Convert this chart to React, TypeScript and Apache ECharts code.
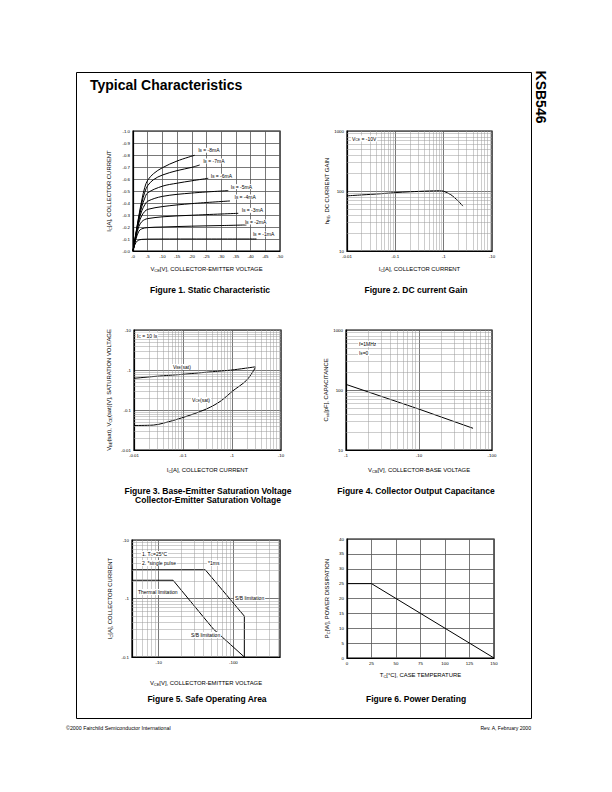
import { useEffect, useRef } from 'react';
import * as echarts from 'echarts';

const FONT = "'Liberation Sans', Arial, Helvetica, sans-serif";

// ---------- Figure 1: Static characteristic (|VCE| [V], |IC| [A]) ----------
const ibNames = ['-1mA', '-2mA', '-3mA', '-4mA', '-5mA', '-6mA', '-7mA', '-8mA'];
const ib1mA = [[0, 0], [0.5, 0.045], [1, 0.07], [1.5, 0.085], [2, 0.092], [3, 0.097], [5, 0.099], [20, 0.1], [42, 0.1]];
const ib2mA = [[0, 0], [1, 0.1], [2, 0.165], [3, 0.185], [5, 0.195], [10, 0.2], [20, 0.207], [30, 0.212], [38.6, 0.217]];
const ib3mA = [[0, 0], [1, 0.115], [2, 0.205], [3, 0.245], [4, 0.262], [5, 0.27], [10, 0.285], [20, 0.298], [35.8, 0.314]];
const ib4mA = [[0, 0], [1, 0.125], [2, 0.235], [3, 0.295], [4, 0.33], [5, 0.347], [10, 0.37], [20, 0.395], [33, 0.417]];
const ib5mA = [[0, 0], [1, 0.135], [2, 0.255], [3, 0.335], [4, 0.385], [5, 0.415], [10, 0.455], [20, 0.483], [32.4, 0.503]];
const ib6mA = [[0, 0], [1, 0.14], [2, 0.27], [3, 0.37], [4, 0.44], [5, 0.485], [10, 0.54], [15, 0.565], [20, 0.585], [25.6, 0.606]];
const ib7mA = [[0, 0], [1, 0.145], [2, 0.285], [3, 0.4], [4, 0.49], [5, 0.545], [7, 0.595], [10, 0.633], [15, 0.67], [20, 0.697], [22.7, 0.717]];
const ib8mA = [[0, 0], [1, 0.15], [2, 0.295], [3, 0.425], [4, 0.53], [5, 0.59], [7, 0.645], [10, 0.694], [15, 0.75], [21, 0.798]];
const staticCurves = [ib1mA, ib2mA, ib3mA, ib4mA, ib5mA, ib6mA, ib7mA, ib8mA];

// ---------- Figure 2: DC current gain (|IC| [A], hFE) ----------
const hfeIc = [0.01, 0.02, 0.05, 0.1, 0.2, 0.5, 0.85, 1, 1.4, 2, 2.5];
const hfeVal = [83, 86, 90, 94, 97, 100, 101, 99, 87, 68, 56];

// ---------- Figure 3: saturation voltages (|IC| [A], |V| [V]) ----------
const vbeIc = [0.01, 0.03, 0.1, 0.3, 1, 3];
const vbeSat = [0.62, 0.7, 0.78, 0.88, 1.0, 1.2];
const vceIc = [0.01, 0.025, 0.04, 0.1, 0.3, 0.6, 1, 2, 3];
const vceSat = [0.041, 0.042, 0.047, 0.065, 0.106, 0.17, 0.29, 0.56, 1.15];

// ---------- Figure 4: collector output capacitance (|VCB| [V], Cob [pF]) ----------
const cobV = [1, 10, 55];
const cobVal = [124, 48, 23];

// ---------- Figure 5: safe operating area (|VCE| [V], |IC| [A]) ----------
const soaPulseV = [4.4, 42, 140, 140];
const soaPulseI = [3.1, 3.1, 0.5, 0.1];
const soaDcV = [4.4, 15.6, 54, 140];
const soaDcI = [2.05, 2.05, 0.3, 0.1];

// ---------- Figure 6: power derating (TC [°C], PC [W]) ----------
const derTc = [0, 25, 150];
const derPc = [25, 25, 0];

const zip = (xs: number[], ys: number[]) => xs.map((x, i) => [x, ys[i]]);

function minors(lo: number, hi: number): number[] {
  const out: number[] = [];
  for (let e = Math.floor(Math.log10(lo)); e <= Math.ceil(Math.log10(hi)); e++) {
    for (let k = 2; k <= 9; k++) {
      const v = Number((k * Math.pow(10, e)).toPrecision(6));
      if (v > lo * 1.0001 && v < hi * 0.9999) out.push(v);
    }
  }
  return out;
}
const trim = (v: number) => String(Number(Number(v).toPrecision(6)));
const isPow10 = (v: number) => Math.abs(Math.log10(v) - Math.round(Math.log10(v))) < 1e-6;
const neg = (v: number) => '-' + trim(v);

const rich = (size: number) => ({
  n: { fontSize: size, fontFamily: FONT, color: '#000' },
  s: { fontSize: size * 0.68, fontFamily: FONT, color: '#000', verticalAlign: 'bottom' },
});

const TICK = { fontSize: 4.4, color: '#000', fontFamily: FONT, margin: 3 };
const AXLINE = { show: true, lineStyle: { color: '#000', width: 1.2 } };
const MAJOR = { show: true, lineStyle: { color: '#555', width: 0.8 } };
const NAME_SIZE = 5.9;

const grids = [
  { left: 133, top: 131, width: 147, height: 120 },
  { left: 347, top: 131, width: 145, height: 120 },
  { left: 134, top: 330, width: 147, height: 120 },
  { left: 346, top: 330, width: 146, height: 120 },
  { left: 132, top: 540, width: 148, height: 117 },
  { left: 347, top: 539, width: 147, height: 119 },
];

function axisName(name: string, gap: number, rotate = 0) {
  return {
    name,
    nameLocation: 'middle',
    nameGap: gap,
    nameRotate: rotate,
    nameTextStyle: { fontSize: NAME_SIZE, fontFamily: FONT, color: '#000', rich: rich(NAME_SIZE) },
  };
}

function linAxis(gi: number, min: number, max: number, interval: number, fmt: (v: number) => string, extra: any) {
  return {
    gridIndex: gi, type: 'value', min, max, interval,
    axisLine: AXLINE, axisTick: { show: false },
    axisLabel: { ...TICK, formatter: fmt, showMinLabel: true, showMaxLabel: true },
    splitLine: MAJOR,
    ...extra,
  };
}
function logAxis(gi: number, min: number, max: number, fmt: (v: number) => string, extra: any) {
  return {
    gridIndex: gi, type: 'log', logBase: 10, min, max,
    axisLine: AXLINE, axisTick: { show: false },
    axisLabel: { ...TICK, formatter: (v: number) => (isPow10(v) ? fmt(v) : ''), showMinLabel: true, showMaxLabel: true },
    splitLine: MAJOR,
    ...extra,
  };
}

function minorGrid(gi: number, xs: number[], ys: number[]) {
  return {
    type: 'line', xAxisIndex: gi, yAxisIndex: gi, data: [], silent: true, z: 1,
    markLine: {
      silent: true, symbol: ['none', 'none'], label: { show: false }, animation: false,
      lineStyle: { color: '#9a9a9a', width: 0.5, type: 'solid' },
      emphasis: { disabled: true },
      data: [...xs.map((v) => ({ xAxis: v })), ...ys.map((v) => ({ yAxis: v }))],
    },
  };
}

const LINE = { color: '#000', width: 1 };
function curve(gi: number, data: number[][], smooth: any = false, extra: any = {}) {
  return {
    type: 'line', xAxisIndex: gi, yAxisIndex: gi, data, smooth, symbol: 'none', showSymbol: false,
    lineStyle: LINE, z: 3, silent: true, ...extra,
  };
}

const labelOffsets = [[-4, -5], [-2, -3], [3, -3], [4, -4], [2, -4], [2, -2], [3, -4], [3, -5]];

function text(x: number, y: number, t: string, opts: any = {}) {
  const size = opts.size ?? 5;
  return {
    type: 'text', x, y, rotation: opts.rotation ?? 0, z: 10,
    style: {
      text: t,
      fill: '#000',
      font: `${opts.bold ? 'bold ' : ''}${size}px ${FONT}`,
      fontSize: size,
      fontWeight: opts.bold ? 'bold' : 'normal',
      fontFamily: FONT,
      align: opts.align ?? 'left',
      textAlign: opts.align ?? 'left',
      verticalAlign: 'middle',
      textVerticalAlign: 'middle',
      rich: opts.rich,
      backgroundColor: opts.bg,
      padding: opts.bg ? [0.5, 1] : 0,
    },
  };
}

export default function App() {
  const ref = useRef<HTMLDivElement>(null);
  useEffect(() => {
    if (!ref.current) return;
    const chart = echarts.init(ref.current, null, { renderer: 'svg' });
    const R5 = rich(5);
    const CAP = 8.5;
    const option: any = {
      animation: false,
      backgroundColor: '#fff',
      textStyle: { fontFamily: FONT },
      grid: grids.map((g) => ({ ...g, show: true, borderColor: '#000', borderWidth: 1.2, containLabel: false })),
      xAxis: [
        linAxis(0, 0, 50, 5, (v) => '-' + v, axisName('{n|V}{s|CE}{n|[V], COLLECTOR-EMITTER VOLTAGE}', 15)),
        logAxis(1, 0.01, 10, neg, axisName('{n|I}{s|C}{n|[A], COLLECTOR CURRENT}', 15)),
        logAxis(2, 0.01, 10, neg, axisName('{n|I}{s|C}{n|[A], COLLECTOR CURRENT}', 17)),
        logAxis(3, 1, 100, neg, axisName('{n|V}{s|CB}{n|[V], COLLECTOR-BASE VOLTAGE}', 17)),
        logAxis(4, 4.4, 420, neg, axisName('{n|V}{s|CE}{n|[V], COLLECTOR-EMITTER VOLTAGE}', 23)),
        linAxis(5, 0, 150, 25, (v) => trim(v), axisName('{n|T}{s|C}{n|[°C], CASE TEMPERATURE}', 14)),
      ],
      yAxis: [
        linAxis(0, 0, 1, 0.1, (v) => '-' + Number(v).toFixed(1), axisName('{n|I}{s|C}{n|[A], COLLECTOR CURRENT}', 21, 90)),
        logAxis(1, 10, 1000, (v) => trim(v), axisName('{n|h}{s|FE}{n|, DC CURRENT GAIN}', 16, 90)),
        logAxis(2, 0.01, 10, neg, axisName('{n|V}{s|BE}{n|(sat), V}{s|CE}{n|(sat)[V], SATURATION VOLTAGE}', 22, 90)),
        logAxis(3, 10, 1000, (v) => trim(v), axisName('{n|C}{s|ob}{n|[pF], CAPACITANCE}', 16, 90)),
        logAxis(4, 0.1, 10, neg, axisName('{n|I}{s|C}{n|[A], COLLECTOR CURRENT}', 19, 90)),
        linAxis(5, 0, 40, 5, (v) => trim(v), axisName('{n|P}{s|C}{n|[W], POWER DISSIPATION}', 17, 90)),
      ],
      series: [
        ...staticCurves.map((d, i) =>
          curve(0, d, 0.35, {
            endLabel: {
              show: true,
              distance: 0,
              offset: labelOffsets[i],
              formatter: `{n|I}{s|B}{n| = ${ibNames[i]}}`,
              rich: R5,
              backgroundColor: '#fff',
              padding: [0, 0.5],
            },
          })
        ),
        minorGrid(1, minors(0.01, 10), minors(10, 1000)),
        curve(1, zip(hfeIc, hfeVal), 0.3),
        minorGrid(2, minors(0.01, 10), minors(0.01, 10)),
        curve(2, zip(vbeIc, vbeSat), 0.2),
        curve(2, zip(vceIc, vceSat), 0.35),
        minorGrid(3, minors(1, 100), minors(10, 1000)),
        curve(3, zip(cobV, cobVal), false),
        minorGrid(4, minors(4.4, 420), minors(0.1, 10)),
        curve(4, zip(soaPulseV, soaPulseI), false),
        curve(4, zip(soaDcV, soaDcI), false),
        curve(5, zip(derTc, derPc), false),
      ],
      graphic: [
        { type: 'rect', shape: { x: 76.5, y: 72.5, width: 455, height: 646 }, style: { fill: 'none', stroke: '#000', lineWidth: 1 }, z: 0 },
        text(90, 85, 'Typical Characteristics', { size: 14, bold: true }),
        text(541, 97, 'KSB546', { size: 14, bold: true, align: 'center', rotation: -Math.PI / 2 }),
        text(66, 728, '©2000 Fairchild Semiconductor International', { size: 5.3 }),
        text(531, 728, 'Rev. A, February 2000', { size: 5.1, align: 'right' }),
        // captions
        text(210, 290, 'Figure 1. Static Characteristic', { size: CAP, bold: true, align: 'center' }),
        text(416, 290, 'Figure 2. DC current Gain', { size: CAP, bold: true, align: 'center' }),
        text(208, 491, 'Figure 3. Base-Emitter Saturation Voltage', { size: CAP, bold: true, align: 'center' }),
        text(208, 500, 'Collector-Emitter Saturation Voltage', { size: CAP, bold: true, align: 'center' }),
        text(416, 491, 'Figure 4. Collector Output Capacitance', { size: CAP, bold: true, align: 'center' }),
        text(207, 699, 'Figure 5. Safe Operating Area', { size: CAP, bold: true, align: 'center' }),
        text(416, 699, 'Figure 6. Power Derating', { size: CAP, bold: true, align: 'center' }),
        // in-plot annotations
        text(351, 138.5, '{n|V}{s|CE}{n| = -10V}', { rich: R5, bg: '#fff' }),
        text(136, 335.5, '{n|I}{s|C}{n| = 10 I}{s|B}', { rich: R5, bg: '#fff' }),
        text(172, 367, '{n|V}{s|BE}{n|(sat)}', { rich: R5, bg: '#fff' }),
        text(191, 400, '{n|V}{s|CE}{n|(sat)}', { rich: R5, bg: '#fff' }),
        text(358, 344, 'f=1MHz', { size: 5, bg: '#fff' }),
        text(358, 353, '{n|I}{s|E}{n|=0}', { rich: R5, bg: '#fff' }),
        text(141, 554, '{n|1. T}{s|C}{n|=25°C}', { rich: R5, bg: '#fff' }),
        text(141, 563, '2. *single pulse', { size: 5, bg: '#fff' }),
        text(207, 563, '*1ms', { size: 5, bg: '#fff' }),
        text(137, 592, 'Thermal limitation', { size: 5, bg: '#fff' }),
        text(234, 598, 'S/B limitation', { size: 5, bg: '#fff' }),
        text(190, 635, 'S/B limitation', { size: 5, bg: '#fff' }),
      ],
    };
    chart.setOption(option);
    return () => chart.dispose();
  }, []);
  return <div ref={ref} style={{ position: 'absolute', left: 0, top: 0, width: 612, height: 792, background: '#fff' }} />;
}
